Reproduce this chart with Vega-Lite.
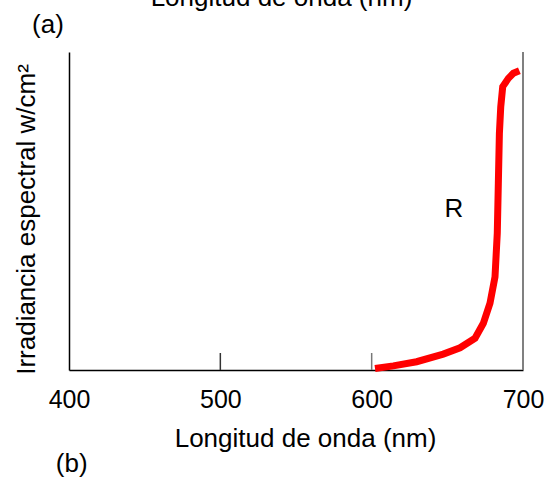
{
  "$schema": "https://vega.github.io/schema/vega-lite/v6.json",
  "width": 454,
  "height": 318,
  "autosize": {"type": "none"},
  "padding": {"left": 69, "top": 52, "right": 28, "bottom": 110},
  "background": "white",
  "config": {"view": {"stroke": null}, "font": "Liberation Sans"},
  "datasets": {
    "frame": [{"wl": 700, "val": 0, "val2": 100}],
    "ticks": [
      {"tick": "500", "wl": 500, "val": 0, "val2": 5.35},
      {"tick": "600", "wl": 600, "val": 0, "val2": 5.35}
    ],
    "curve": [
      {"wl": 602.2, "val": 0.5},
      {"wl": 614.3, "val": 1.3},
      {"wl": 629.7, "val": 2.6},
      {"wl": 647.3, "val": 5.0},
      {"wl": 658.4, "val": 7.0},
      {"wl": 668.3, "val": 10.0},
      {"wl": 673.8, "val": 14.7},
      {"wl": 678.2, "val": 21.0},
      {"wl": 681.5, "val": 29.3},
      {"wl": 683.0, "val": 43.0},
      {"wl": 683.7, "val": 58.7},
      {"wl": 684.4, "val": 74.4},
      {"wl": 685.3, "val": 82.8},
      {"wl": 686.6, "val": 89.1},
      {"wl": 690.3, "val": 91.7},
      {"wl": 693.6, "val": 93.3},
      {"wl": 697.6, "val": 94.1}
    ],
    "labels": [
      {"label": "R", "wl": 654.4, "val": 48.2},
      {"label": "(a)", "wl": 386.1, "val": 106.0},
      {"label": "(b)", "wl": 401.8, "val": -32.0},
      {"label": "Longitud de onda (nm)", "wl": 540.4, "val": 114.5}
    ]
  },
  "encoding": {
    "x": {
      "field": "wl",
      "type": "quantitative",
      "scale": {"domain": [400, 700], "nice": false, "zero": false},
      "axis": {
        "title": "Longitud de onda (nm)",
        "values": [400, 500, 600, 700],
        "format": "d",
        "ticks": false,
        "tickSize": 0,
        "grid": false,
        "domainColor": "black",
        "domainWidth": 1.5,
        "labelFontSize": 25,
        "labelColor": "black",
        "labelBaseline": "alphabetic",
        "labelPadding": 37,
        "labelFlush": false,
        "labelOverlap": false,
        "titleFontSize": 26,
        "titleFontWeight": "normal",
        "titleColor": "black",
        "titleBaseline": "alphabetic",
        "titleX": 236,
        "titleY": 76
      }
    },
    "y": {
      "field": "val",
      "type": "quantitative",
      "scale": {"domain": [0, 100], "nice": false, "zero": false},
      "axis": {
        "title": "Irradiancia espectral w/cm²",
        "labels": false,
        "ticks": false,
        "tickSize": 0,
        "grid": false,
        "domainColor": "black",
        "domainWidth": 1.5,
        "titleFontSize": 26,
        "titleFontWeight": "normal",
        "titleColor": "black",
        "titlePadding": 30,
        "titleY": 167
      }
    }
  },
  "layer": [
    {
      "data": {"name": "frame"},
      "mark": {"type": "rule", "strokeWidth": 2, "color": "#808080"},
      "encoding": {"y2": {"field": "val2"}}
    },
    {
      "data": {"name": "ticks"},
      "mark": {"type": "rule", "strokeWidth": 1.5},
      "encoding": {
        "y2": {"field": "val2"},
        "color": {"field": "tick", "type": "nominal", "scale": {"domain": ["500", "600"], "range": ["#333333", "#777777"]}, "legend": null}
      }
    },
    {
      "data": {"name": "curve"},
      "mark": {"type": "line", "color": "#ff0000", "strokeWidth": 7, "strokeCap": "butt"},
      "encoding": {}
    },
    {
      "data": {"name": "labels"},
      "mark": {"type": "text", "fontSize": 26, "baseline": "alphabetic", "align": "center", "color": "black"},
      "encoding": {"text": {"field": "label"}}
    }
  ]
}
